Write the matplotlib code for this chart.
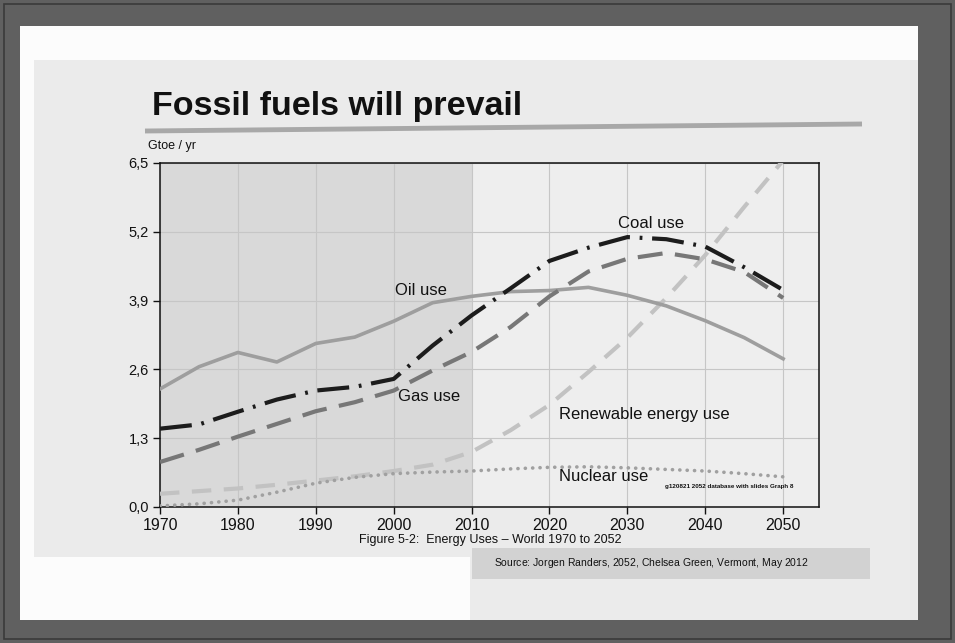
import numpy as np
import matplotlib
matplotlib.use("Agg")
import matplotlib.pyplot as plt
from matplotlib.patches import Rectangle, Polygon

plt.rcParams["font.family"] = ["Liberation Sans", "DejaVu Sans"]
plt.rcParams["mathtext.fontset"] = "custom"
plt.rcParams["mathtext.it"] = "Liberation Sans:italic"
plt.rcParams["mathtext.rm"] = "Liberation Sans"
plt.rcParams["lines.scale_dashes"] = False

# World energy use by source, Gtoe per year
years = [1970, 1975, 1980, 1985, 1990, 1995, 2000, 2005, 2010,
         2015, 2020, 2025, 2030, 2035, 2040, 2045, 2050]
oil = [2.23, 2.65, 2.92, 2.74, 3.09, 3.21, 3.51, 3.86, 3.98,
       4.07, 4.09, 4.15, 4.00, 3.80, 3.52, 3.20, 2.80]
coal = [1.48, 1.56, 1.80, 2.03, 2.20, 2.27, 2.42, 3.05, 3.62,
        4.13, 4.65, 4.90, 5.10, 5.06, 4.92, 4.53, 4.10]
gas = [0.85, 1.08, 1.33, 1.57, 1.81, 1.98, 2.20, 2.58, 2.93,
       3.40, 3.98, 4.45, 4.69, 4.80, 4.68, 4.44, 3.95]
renewable = [0.25, 0.30, 0.35, 0.42, 0.50, 0.58, 0.68, 0.80, 1.04,
             1.45, 1.93, 2.55, 3.20, 3.95, 4.76, 5.67, 6.55]
nuclear = [0.02, 0.06, 0.13, 0.28, 0.45, 0.56, 0.63, 0.66, 0.68,
           0.72, 0.75, 0.76, 0.74, 0.71, 0.68, 0.63, 0.57]

x_ticks = [1970, 1980, 1990, 2000, 2010, 2020, 2030, 2040, 2050]
y_ticks = [0.0, 1.3, 2.6, 3.9, 5.2, 6.5]
y_tick_labels = ["0,0", "1,3", "2,6", "3,9", "5,2", "6,5"]

W, H = 955, 643
fig = plt.figure(figsize=(W / 100, H / 100), dpi=100)
fig.patch.set_facecolor("#606060")

# page backdrop drawn in pixel coordinates
bg = fig.add_axes([0, 0, 1, 1], zorder=0)
bg.set_xlim(0, W)
bg.set_ylim(H, 0)
bg.axis("off")
bg.add_patch(Rectangle((4, 4), W - 8, H - 8, facecolor="none",
                       edgecolor="#3a3a3a", lw=1.2))
bg.add_patch(Rectangle((20, 26), 898, 594, facecolor="#fcfcfc", lw=0))
bg.add_patch(Polygon([(34, 60), (918, 60), (918, 620), (470, 620),
                      (470, 557), (34, 557)], closed=True,
                     facecolor="#ebebeb", lw=0))
bg.plot([145, 862], [131, 124], color="#a8a8a8", lw=3.5,
        solid_capstyle="butt")
bg.text(152, 107, "Fossil fuels will prevail", fontsize=24.5,
        fontweight="bold", color="#111111", va="center", ha="left")
bg.text(148, 146, "Gtoe / yr", fontsize=9, color="#111111",
        va="center", ha="left")
bg.text(490, 540, "Figure 5-2:  Energy Uses \u2013 World 1970 to 2052",
        fontsize=9, color="#111111", va="center", ha="center")
bg.add_patch(Rectangle((472, 548), 398, 31, facecolor="#d2d2d2", lw=0))
bg.text(494, 563, "Source: Jorgen Randers, $\\mathit{2052}$, Chelsea Green, "
        "Vermont, May 2012", fontsize=7.5, color="#111111",
        va="center", ha="left")

# main chart
ax = fig.add_axes([160 / W, 1 - 507 / H, (819 - 160) / W, (507 - 163) / H],
                  zorder=1)
ax.set_facecolor("#eeeeee")
ax.axvspan(1970, 2010, color="#d9d9d9", lw=0, zorder=0)
ax.set_xlim(1970, 2054.6)
ax.set_ylim(0, 6.5)

ax.set_xticks(x_ticks)
ax.set_xticklabels([str(t) for t in x_ticks], fontsize=11.5)
ax.set_yticks(y_ticks)
ax.set_yticklabels(y_tick_labels, fontsize=10.5)
ax.tick_params(axis="both", direction="out", length=5, width=1,
               colors="#111111", pad=3)
ax.grid(True, color="#c6c6c6", lw=0.8)
ax.set_axisbelow(True)
for s in ax.spines.values():
    s.set_color("#111111")
    s.set_linewidth(1.1)

ax.plot(years, renewable, color="#c2c2c2", lw=3,
        linestyle=(0, (14, 9)), zorder=3)
ax.plot(years, nuclear, color="#a0a0a0", lw=2.6,
        linestyle=(0, (0.1, 5.2)), dash_capstyle="round", zorder=3)
ax.plot(years, oil, color="#9e9e9e", lw=2.6, zorder=4)
ax.plot(years, gas, color="#777777", lw=3,
        linestyle=(0, (18, 9)), zorder=4)
ax.plot(years, coal, color="#1c1c1c", lw=3,
        linestyle=(0, (23, 7, 2, 7)), zorder=5)

label_kw = dict(fontsize=12, color="#111111", ha="center", va="center")
ax.text(2003.5, 4.10, "Oil use", **label_kw)
ax.text(2033.0, 5.35, "Coal use", **label_kw)
ax.text(2004.6, 2.08, "Gas use", **label_kw)
ax.text(2032.2, 1.74, "Renewable energy use", **label_kw)
ax.text(2027.0, 0.57, "Nuclear use", **label_kw)
ax.text(2051.3, 0.38, "g120821 2052 database with slides Graph 8",
        fontsize=4.5, fontweight="bold", color="#111111",
        ha="right", va="center")

fig.savefig("out.png", dpi=100, facecolor=fig.get_facecolor())
